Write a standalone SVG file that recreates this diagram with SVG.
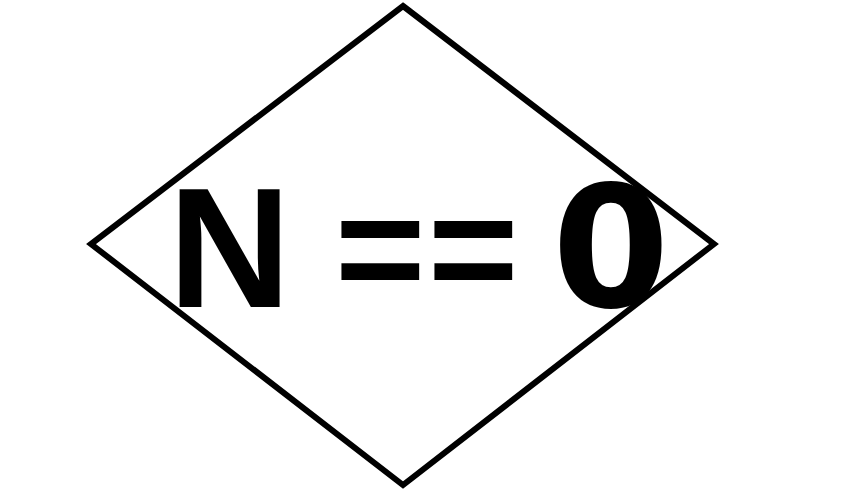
<svg xmlns="http://www.w3.org/2000/svg" width="844" height="492" viewBox="0 0 844 492">
<style>
.shape{fill:#ffffff;stroke:#000000;stroke-width:6;stroke-linejoin:miter}
.label{font-family:"Liberation Sans",Arial,sans-serif;font-weight:bold;font-size:170px;fill:#000000}
.eq{font-size:155px}
.zero{font-family:"DejaVu Sans",sans-serif;font-size:169px}
</style>
<rect width="844" height="492" fill="#ffffff"/>
<g id="connectors"></g>
<g id="node-decision">
<polygon class="shape" points="403,6 714,244 403,485 91,244"/>
<text class="label" y="307"><tspan x="168.3">N</tspan> <tspan class="eq" x="335" dy="-5" letter-spacing="2.5">==</tspan> <tspan class="zero" x="552" dy="5">0</tspan></text>
</g>
</svg>
